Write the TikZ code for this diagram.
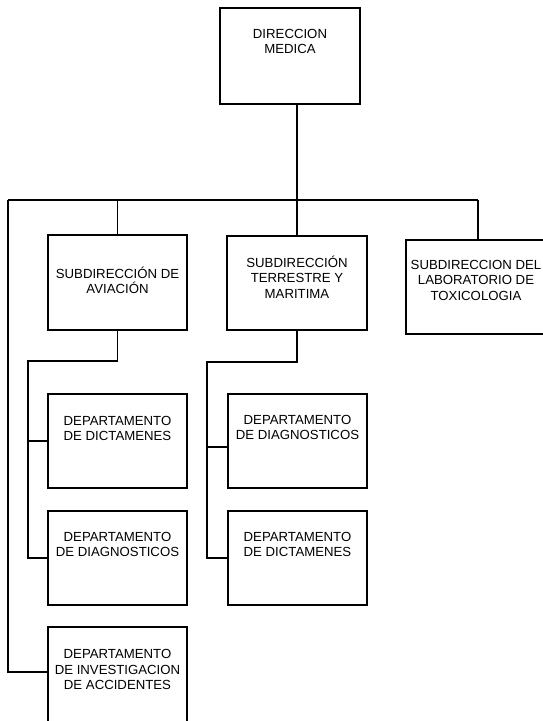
\documentclass[tikz,border=0pt]{standalone}
\usepackage{fontspec}
\setmainfont{Liberation Sans}
\begin{document}
\begin{tikzpicture}[x=1pt,y=-1pt,
  box/.style={draw=black,line width=1.2pt,minimum width=139pt,minimum height=94pt,inner sep=0pt},
  txt/.style={anchor=north,inner sep=0pt,align=center,font=\fontsize{13.2}{15.3}\selectfont},
  conn/.style={line width=1.2pt}]
\useasboundingbox (0,0) rectangle (543,721);
\clip (0,0) rectangle (543,721);
% boxes
\node[box,minimum width=140pt,minimum height=96pt] (dm) at (290,56) {};
\node[box,minimum height=95pt] (av) at (117.5,282.5) {};
\node[box,minimum width=140pt] (ter) at (297,283) {};
\node[box,minimum width=140pt] (lab) at (476,287) {};
\node[box] (d1) at (117.5,441) {};
\node[box] (d2) at (117.5,558) {};
\node[box,minimum height=95pt] (inv) at (117.5,674.5) {};
\node[box] (m1) at (297.5,441) {};
\node[box] (m2) at (297.5,558) {};
% texts
\node[txt] (dmt) at ([yshift=-18pt]dm.north) {\rule{0pt}{13pt}DIRECCION\\MEDICA};
\node[txt] (avt) at ([yshift=-31pt]av.north) {\rule{0pt}{13pt}SUBDIRECCIÓN DE\\AVIACIÓN};
\node[txt] (tert) at ([yshift=-19pt]ter.north) {\rule{0pt}{13pt}SUBDIRECCIÓN\\TERRESTRE Y\\MARITIMA};
\node[txt] (labt) at ([yshift=-17pt]lab.north) {\rule{0pt}{13pt}SUBDIRECCION DEL\\LABORATORIO DE\\TOXICOLOGIA};
\node[txt] (d1t) at ([yshift=-19pt]d1.north) {\rule{0pt}{13pt}DEPARTAMENTO\\DE DICTAMENES};
\node[txt] (d2t) at ([yshift=-17.7pt]d2.north) {\rule{0pt}{13pt}DEPARTAMENTO\\DE DIAGNOSTICOS};
\node[txt] (invt) at ([yshift=-19.3pt]inv.north) {\rule{0pt}{13pt}DEPARTAMENTO\\DE INVESTIGACION\\DE ACCIDENTES};
\node[txt] (m1t) at ([yshift=-18pt]m1.north) {\rule{0pt}{13pt}DEPARTAMENTO\\DE DIAGNOSTICOS};
\node[txt] (m2t) at ([yshift=-17.7pt]m2.north) {\rule{0pt}{13pt}DEPARTAMENTO\\DE DICTAMENES};
% connectors
\coordinate (busL) at (8,200);
\coordinate (busR) at (478,200);
\coordinate (invj) at (8,672);
\coordinate (avj) at (28,361);
\coordinate (tj) at (207,362);
\coordinate (m1j) at (207,447);
\draw[conn] (busL) -- (busR);
\draw[conn] (ter.north) -- (ter.north |- dm.south);
\draw[conn] (av.north) -- (av.north |- busL);
\draw[conn] (busR) -- (busR |- lab.north);
\draw[conn] (busL) -- (invj) -- (invj -| inv.west);
\draw[conn] (av.south) -- (av.south |- avj) -- (avj) |- (d2.west);
\draw[conn] (avj |- d1.west) -- (d1.west);
\draw[conn] (ter.south) -- (ter.south |- tj) -- (tj) |- (m2.west);
\draw[conn] (m1j) -- (m1j -| m1.west);
\end{tikzpicture}
\end{document}
